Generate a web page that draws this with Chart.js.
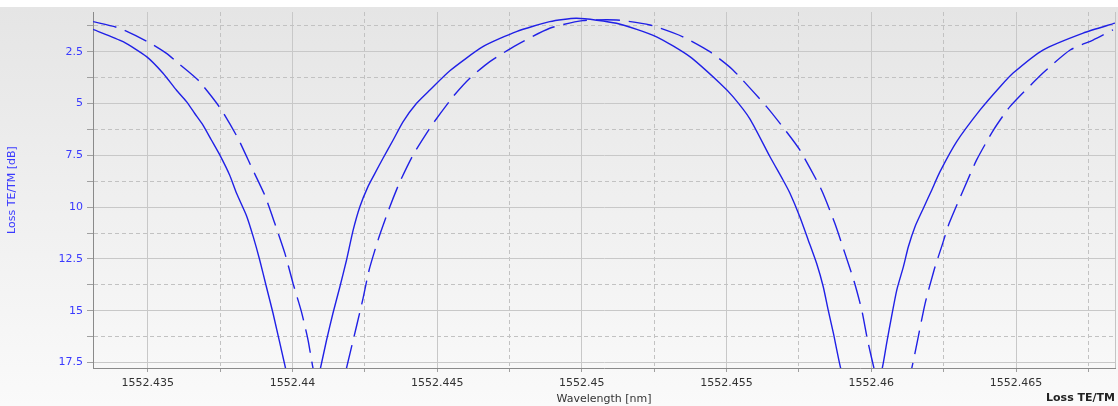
<!DOCTYPE html>
<html>
<head>
<meta charset="utf-8">
<script src="https://cdn.jsdelivr.net/npm/chart.js@4/dist/chart.umd.min.js"></script>
<style>
  html, body { margin: 0; padding: 0; background: #fff; }
  #wrap {
    width: 1118px; height: 406px;
    background: linear-gradient(to bottom, #ffffff 0px, #ffffff 7px, #e5e5e5 7px, #fafafa 100%);
  }
</style>
</head>
<body>
<div id="wrap"><canvas id="grafico" width="1118" height="406"></canvas></div>
<script>
// Dados (nm / dB)
const wlTE = [1552.43311, 1552.43415, 1552.43496, 1552.43553, 1552.43599, 1552.43634, 1552.43662, 1552.43691, 1552.4372, 1552.43749,
    1552.43783, 1552.43807, 1552.43841, 1552.43864, 1552.43887, 1552.4391, 1552.43933, 1552.43976, 1552.44036, 1552.44097,
    1552.44118, 1552.4414, 1552.44164, 1552.44187, 1552.4421, 1552.44233, 1552.44261, 1552.44285, 1552.44313, 1552.44348,
    1552.44382, 1552.44429, 1552.44475, 1552.44544, 1552.44658, 1552.44774, 1552.44889, 1552.44982, 1552.4512, 1552.45258,
    1552.45373, 1552.45477, 1552.45522, 1552.45581, 1552.4565, 1552.45695, 1552.45719, 1552.45753, 1552.45782, 1552.45811,
    1552.45834, 1552.45851, 1552.45869, 1552.45894, 1552.45966, 1552.46038, 1552.46053, 1552.4607, 1552.46088, 1552.46111,
    1552.46128, 1552.46151, 1552.4618, 1552.46209, 1552.46237, 1552.46295, 1552.46376, 1552.46445, 1552.4649, 1552.46593,
    1552.46732, 1552.46842];
const lossTE = [1.42, 2.02, 2.74, 3.54, 4.35, 4.91, 5.47, 6.04, 6.76, 7.48,
    8.45, 9.33, 10.4, 11.4, 12.55, 13.84, 15.12, 17.76, 21.5, 17.76,
    16.41, 15.12, 13.84, 12.55, 11.1, 9.98, 9.01, 8.37, 7.64, 6.76,
    5.88, 4.99, 4.35, 3.42, 2.26, 1.53, 1.05, 0.89, 1.13, 1.78,
    2.74, 4.02, 4.67, 5.75, 7.57, 8.69, 9.33, 10.46, 11.58, 12.71,
    13.84, 14.96, 16.08, 17.76, 21.5, 17.76, 16.57, 15.28, 14.0, 12.87,
    11.91, 10.94, 10.05, 9.17, 8.3, 6.84, 5.31, 4.19, 3.53, 2.42,
    1.6, 1.12];

const wlTM = [1552.43311, 1552.43403, 1552.435, 1552.43565, 1552.43599, 1552.43674, 1552.43751, 1552.43812, 1552.43858, 1552.43904,
    1552.43939, 1552.43974, 1552.44002, 1552.44031, 1552.44054, 1552.44071, 1552.44129, 1552.44187, 1552.44221, 1552.44244,
    1552.44265, 1552.44296, 1552.44335, 1552.44369, 1552.44417, 1552.4448, 1552.44555, 1552.44613, 1552.44682, 1552.44774,
    1552.44889, 1552.45003, 1552.4512, 1552.45235, 1552.45349, 1552.45442, 1552.45522, 1552.45638, 1552.45707, 1552.45753,
    1552.45828, 1552.45874, 1552.45909, 1552.45941, 1552.45967, 1552.45987, 1552.46009, 1552.46074, 1552.4614, 1552.4616,
    1552.46186, 1552.46217, 1552.46245, 1552.46269, 1552.46318, 1552.46364, 1552.46422, 1552.46479, 1552.46593, 1552.46687,
    1552.46766, 1552.46835];
const lossTM = [1.05, 1.37, 2.02, 2.58, 2.98, 3.87, 5.23, 6.68, 8.05, 9.41,
    10.78, 12.23, 13.67, 15.04, 16.41, 17.76, 21.5, 17.76, 15.77, 14.4,
    13.03, 11.58, 10.04, 8.85, 7.48, 6.08, 4.67, 3.78, 2.98, 2.18,
    1.37, 1.0, 0.97, 1.21, 1.78, 2.5, 3.38, 5.15, 6.36, 7.24,
    9.17, 10.78, 12.23, 13.6, 14.96, 16.41, 17.76, 21.5, 17.76, 16.41,
    14.64, 13.03, 11.82, 10.78, 9.17, 7.72, 6.28, 5.15, 3.53, 2.42,
    1.94, 1.45];

// Marcas dos eixos ('' = linha secundária tracejada)
const xTickValues = [1552.435, 1552.4375, 1552.44, 1552.4425, 1552.445, 1552.4475, 1552.45,
    1552.4525, 1552.455, 1552.4575, 1552.46, 1552.4625, 1552.465, 1552.4675];
const xTickLabels = ['1552.435', '', '1552.44', '', '1552.445', '', '1552.45',
    '', '1552.455', '', '1552.46', '', '1552.465', ''];
const yTickValues = [1.25, 2.5, 3.75, 5, 6.25, 7.5, 8.75, 10, 11.25, 12.5, 13.75, 15, 16.25, 17.5];
const yTickLabels = ['', '2.5', '', '5', '', '7.5', '', '10', '', '12.5', '', '15', '', '17.5'];

const azul = '#2020e6';
const azulTexto = '#3a3aff';

Chart.defaults.font.family = '"DejaVu Sans", Verdana, sans-serif';
Chart.defaults.font.size = 11;

function pontos(xs, ys) {
    return xs.map((x, i) => ({ x: x, y: ys[i] }));
}

// Rótulo "Loss TE/TM" e borda direita
const extras = {
    id: 'extras',
    afterDraw(chart) {
        const { ctx, chartArea } = chart;
        ctx.save();
        ctx.strokeStyle = '#c4c4c4';
        ctx.lineWidth = 1;
        ctx.beginPath();
        ctx.moveTo(Math.round(chartArea.right) + 0.5, chartArea.top);
        ctx.lineTo(Math.round(chartArea.right) + 0.5, chartArea.bottom);
        ctx.stroke();
        ctx.font = 'bold 11px "DejaVu Sans", Verdana, sans-serif';
        ctx.fillStyle = '#222';
        ctx.textAlign = 'right';
        ctx.textBaseline = 'middle';
        ctx.fillText('Loss TE/TM', 1115, 398);
        ctx.restore();
    }
};

const ctx = document.getElementById('grafico').getContext('2d');
const grafico = new Chart(ctx, {
    type: 'line',
    data: {
        datasets: [{
            label: 'TE',
            data: pontos(wlTE, lossTE),
            borderColor: azul,
            borderWidth: 1.4,
            pointRadius: 0,
            tension: 0.2,
            capBezierPoints: false,
            clip: 0
        }, {
            label: 'TM',
            data: pontos(wlTM, lossTM),
            borderColor: azul,
            borderWidth: 1.4,
            borderDash: [24, 9],
            pointRadius: 0,
            tension: 0.2,
            capBezierPoints: false,
            clip: 0
        }]
    },
    options: {
        responsive: false,
        animation: false,
        layout: { padding: { top: 12, right: 3, left: 0, bottom: 0 } },
        plugins: {
            legend: { display: false },
            tooltip: { enabled: false }
        },
        scales: {
            x: {
                type: 'linear',
                min: 1552.43311,
                max: 1552.46842,
                afterBuildTicks: s => { s.ticks = xTickValues.map(v => ({ value: v })); },
                afterFit: s => { s.height = 38; },
                ticks: {
                    autoSkip: false,
                    maxRotation: 0,
                    padding: 5,
                    color: '#333',
                    callback: (v, i) => xTickLabels[i]
                },
                grid: {
                    color: c => xTickLabels[c.index] === '' ? '#c2c2c2' : '#c8c8c8',
                    tickColor: '#a0a0a0',
                    tickLength: 4,
                    lineWidth: 1
                },
                border: {
                    color: '#8a8a8a',
                    dash: c => xTickLabels[c.index] === '' ? [4, 3] : []
                },
                title: {
                    display: true,
                    text: 'Wavelength [nm]',
                    color: '#333',
                    font: { size: 11, lineHeight: 1 },
                    padding: { top: 0, bottom: 1 }
                }
            },
            y: {
                reverse: true,
                min: 0.585,
                max: 17.76,
                afterBuildTicks: s => { s.ticks = yTickValues.map(v => ({ value: v })); },
                afterFit: s => { s.width = 93; },
                ticks: {
                    autoSkip: false,
                    padding: 4,
                    color: azulTexto,
                    callback: (v, i) => yTickLabels[i]
                },
                grid: {
                    color: c => yTickLabels[c.index] === '' ? '#c2c2c2' : '#c8c8c8',
                    tickColor: '#a0a0a0',
                    tickLength: 6,
                    lineWidth: 1
                },
                border: {
                    color: '#8a8a8a',
                    dash: c => yTickLabels[c.index] === '' ? [4, 3] : []
                },
                title: {
                    display: true,
                    text: 'Loss TE/TM [dB]',
                    color: azulTexto,
                    font: { size: 11, lineHeight: 1 },
                    padding: { top: 7, bottom: 0 }
                }
            }
        }
    },
    plugins: [extras]
});
</script>
</body>
</html>
